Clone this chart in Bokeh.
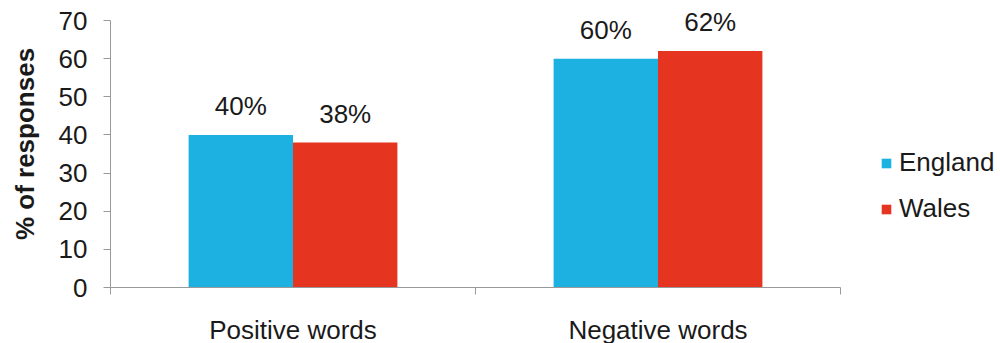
from bokeh.plotting import figure
from bokeh.models import ColumnDataSource, FixedTicker, Legend, LegendItem, Range1d
from bokeh.embed import file_html
from bokeh.resources import INLINE
from bokeh.core.properties import value

categories = ["Positive words", "Negative words"]
england = [40, 60]
wales = [38, 62]
y_ticks = [0, 10, 20, 30, 40, 50, 60, 70]

BLUE = "#1DB1E2"
RED = "#E5341F"
FONT = "Liberation Sans"
FS = "26px"
TXT = "#1a1a1a"

xc = [i + 0.5 for i in range(len(categories))]
w = 0.286
src_e = ColumnDataSource(dict(x=[c - w / 2 for c in xc], y=england,
                              lab=[f"{v}%" for v in england]))
src_w = ColumnDataSource(dict(x=[c + w / 2 for c in xc], y=wales,
                              lab=[f"{v}%" for v in wales]))

# frame extends 20px above the 70 tick so the top labels are not clipped;
# the y axis line itself is bounded to 0..70
y_top = y_ticks[-1] * 287 / 267
p = figure(frame_width=730, frame_height=287, output_backend="svg", toolbar_location=None,
           x_range=Range1d(0, len(categories)), y_range=Range1d(0, y_top),
           min_border_left=110, min_border_right=10, min_border_top=0,
           min_border_bottom=56)
p.outline_line_color = None
p.grid.grid_line_color = None
p.background_fill_color = "white"
p.border_fill_color = "white"

r_e = p.vbar(x="x", top="y", width=w, source=src_e, fill_color=BLUE, line_color=None)
r_w = p.vbar(x="x", top="y", width=w, source=src_w, fill_color=RED, line_color=None)

for src in (src_e, src_w):
    p.text(x="x", y="y", text="lab", source=src, text_align="center",
           text_baseline="alphabetic", y_offset=-29, text_font=value(FONT),
           text_font_size=FS, text_color=TXT)

# x axis
p.xaxis.ticker = FixedTicker(ticks=xc, minor_ticks=list(range(len(categories) + 1)))
p.xaxis.major_label_overrides = {c: lab for c, lab in zip(xc, categories)}
p.xaxis.major_tick_line_color = None
p.xaxis.major_tick_out = 6
p.xaxis.minor_tick_out = 7
p.xaxis.minor_tick_in = 0
p.xaxis.minor_tick_line_color = "#999999"
p.xaxis.axis_line_color = "#999999"
p.xaxis.major_label_standoff = 20
p.xaxis.major_label_text_font = FONT
p.xaxis.major_label_text_font_size = FS
p.xaxis.major_label_text_color = TXT

# y axis
p.yaxis.ticker = FixedTicker(ticks=y_ticks)
p.yaxis.bounds = (y_ticks[0], y_ticks[-1])
p.yaxis.minor_tick_line_color = None
p.yaxis.major_tick_out = 7
p.yaxis.major_tick_in = 0
p.yaxis.major_tick_line_color = "#999999"
p.yaxis.axis_line_color = "#999999"
p.yaxis.major_label_standoff = 16
p.yaxis.major_label_text_font = FONT
p.yaxis.major_label_text_font_size = FS
p.yaxis.major_label_text_color = TXT
p.yaxis.axis_label = "% of responses"
p.yaxis.axis_label_text_font = FONT
p.yaxis.axis_label_text_font_size = FS
p.yaxis.axis_label_text_font_style = "bold"
p.yaxis.axis_label_text_color = TXT
p.yaxis.axis_label_standoff = 16

legend = Legend(items=[LegendItem(label="England", renderers=[r_e]),
                       LegendItem(label="Wales", renderers=[r_w])],
                location=(40, 63), orientation="vertical",
                glyph_width=12, glyph_height=12, label_height=26,
                spacing=15, padding=0, margin=0, label_standoff=7,
                label_text_font=FONT, label_text_font_size=FS,
                label_text_color=TXT, border_line_color=None,
                background_fill_alpha=0)
p.add_layout(legend, "right")

open("out.html", "w").write(file_html(p, INLINE))
